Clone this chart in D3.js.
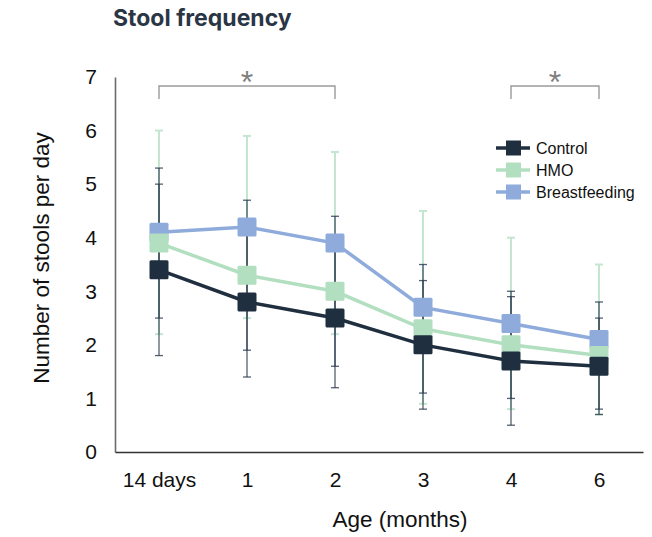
<!DOCTYPE html>
<html>
<head>
<meta charset="utf-8">
<script src="https://cdn.jsdelivr.net/npm/d3@7"></script>
<style>
  html, body { margin: 0; padding: 0; background: #fff; }
  svg { display: block; }
  text { font-family: "Liberation Sans", Arial, sans-serif; }
</style>
</head>
<body>
<svg id="chart" width="652" height="537"></svg>
<script>
// data (mean and +/- bar half-width, stools per day)
var ages = ["14 days", "1", "2", "3", "4", "6"];
var yTicks = [0, 1, 2, 3, 4, 5, 6, 7];

var controlMean = [3.4, 2.8, 2.5, 2.0, 1.7, 1.6];
var controlSd   = [1.6, 1.4, 1.3, 1.2, 1.2, 0.9];
var hmoMean     = [3.9, 3.3, 3.0, 2.3, 2.0, 1.8];
var hmoSd       = [1.4, 1.4, 1.4, 1.2, 1.0, 1.0];
var bfMean      = [4.1, 4.2, 3.9, 2.7, 2.4, 2.1];
var bfSd        = [1.9, 1.7, 1.7, 1.8, 1.6, 1.4];

// significance brackets: [from category, to category]
var brackets = [["14 days", "2"], ["4", "6"]];

var series = [
  { name: "Control",       mean: controlMean, sd: controlSd, color: "#1f2f3f", err: "#2a3a4b", errOp: 0.8, errW: 1.3 },
  { name: "HMO",           mean: hmoMean,     sd: hmoSd,     color: "#b3dfc1", err: "#253a52", errOp: 0.8, errW: 1.3 },
  { name: "Breastfeeding", mean: bfMean,      sd: bfSd,      color: "#8eabdb", err: "#c4e6cf", errOp: 1,   errW: 2 }
];

var svg = d3.select("#chart");

var x = d3.scalePoint().domain(ages).range([115, 643]).padding(0.5);
var y = d3.scaleLinear().domain([0, 7]).range([452, 77]);

// title
svg.append("text")
  .attr("x", 113).attr("y", 26)
  .style("font-family", "Inter, 'Liberation Sans', sans-serif")
  .style("font-weight", 700)
  .style("font-size", "23px")
  .attr("fill", "#2b3645")
  .text("Stool frequency");

// y axis
var yAxis = svg.append("g")
  .attr("transform", "translate(115,0)")
  .call(d3.axisLeft(y).tickValues(yTicks).tickSize(0).tickSizeOuter(0).tickPadding(18).tickFormat(d3.format("d")));
yAxis.select(".domain").attr("stroke", "#6b6b6b").attr("stroke-width", 1.6);
yAxis.selectAll("text").style("font-size", "21px").attr("fill", "#111");

// x axis
var xAxis = svg.append("g")
  .attr("transform", "translate(0,452)")
  .call(d3.axisBottom(x).tickSize(0).tickSizeOuter(0).tickPadding(20));
xAxis.select(".domain").attr("stroke", "#333").attr("stroke-width", 1.6);
xAxis.selectAll("text").style("font-size", "21px").attr("fill", "#111");

// axis titles
svg.append("text")
  .attr("x", 400).attr("y", 527)
  .attr("text-anchor", "middle")
  .style("font-size", "22.5px").attr("fill", "#111")
  .text("Age (months)");

svg.append("text")
  .attr("transform", "translate(49,258) rotate(-90)")
  .attr("text-anchor", "middle")
  .style("font-size", "22.5px").attr("fill", "#111")
  .text("Number of stools per day");

// error bars, light ones first
var errOrder = [series[2], series[1], series[0]];
errOrder.forEach(function(s) {
  var g = svg.append("g").attr("stroke", s.err).attr("stroke-opacity", s.errOp).attr("stroke-width", s.errW);
  ages.forEach(function(a, i) {
    var lo = y(s.mean[i] - s.sd[i]), hi = y(s.mean[i] + s.sd[i]), cx = x(a);
    g.append("line").attr("x1", cx).attr("x2", cx).attr("y1", lo).attr("y2", hi);
    g.append("line").attr("x1", cx - 4).attr("x2", cx + 4).attr("y1", lo).attr("y2", lo);
    g.append("line").attr("x1", cx - 4).attr("x2", cx + 4).attr("y1", hi).attr("y2", hi);
  });
});

// lines and markers, control on top
var line = d3.line().x(function(d, i) { return x(ages[i]); }).y(function(d) { return y(d); });
[series[2], series[1], series[0]].forEach(function(s) {
  svg.append("path")
    .datum(s.mean)
    .attr("d", line)
    .attr("fill", "none")
    .attr("stroke", s.color)
    .attr("stroke-width", 3.5);
  svg.append("g").selectAll("rect")
    .data(s.mean)
    .join("rect")
    .attr("x", function(d, i) { return x(ages[i]) - 9.5; })
    .attr("y", function(d) { return y(d) - 9.5; })
    .attr("width", 19).attr("height", 19)
    .attr("rx", 1.5)
    .attr("fill", s.color);
});

// significance brackets
var bg = svg.append("g");
brackets.forEach(function(b) {
  var x1 = x(b[0]), x2 = x(b[1]), top = 86, bot = 99;
  bg.append("path")
    .attr("d", "M" + x1 + "," + bot + "V" + top + "H" + x2 + "V" + bot)
    .attr("fill", "none").attr("stroke", "#9a9a9a").attr("stroke-width", 1.4);
  bg.append("text")
    .attr("x", (x1 + x2) / 2).attr("y", 93)
    .attr("text-anchor", "middle")
    .style("font-size", "32px").attr("fill", "#7f7f7f")
    .text("*");
});

// legend
var lg = svg.append("g").attr("transform", "translate(496,148)");
series.forEach(function(s, i) {
  var row = lg.append("g").attr("transform", "translate(0," + (i * 22) + ")");
  row.append("line").attr("x1", 0).attr("x2", 34).attr("y1", 0).attr("y2", 0)
    .attr("stroke", s.color).attr("stroke-width", 3.5);
  row.append("rect").attr("x", 10).attr("y", -7.5).attr("width", 15).attr("height", 15)
    .attr("fill", s.color);
  row.append("text").attr("x", 40).attr("y", 6)
    .style("font-size", "16px").attr("fill", "#111")
    .text(s.name);
});
</script>
</body>
</html>
